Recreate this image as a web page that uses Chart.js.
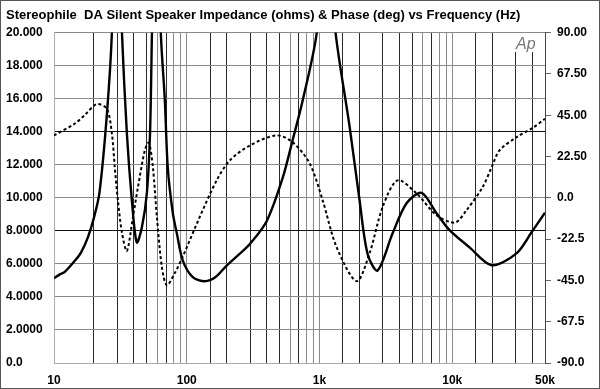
<!DOCTYPE html>
<html>
<head>
<meta charset="utf-8">
<script src="https://cdn.jsdelivr.net/npm/chart.js@4/dist/chart.umd.min.js"></script>
<style>
  html, body { margin: 0; padding: 0; background: #fff; }
  #wrap { width: 600px; height: 389px; position: relative; }
</style>
</head>
<body>
<div id="wrap"><canvas id="chart"></canvas></div>
<script>
// impedance (ohms) vs frequency (Hz)
const freqZ = [10, 11, 12, 14.4, 16, 18, 20, 22, 25, 27.3, 29.5, 32.5, 35.4, 38.6, 42, 45.9, 50.1, 52.9, 54.7, 59, 63.8, 68.4, 72, 78.6, 84.2, 93.4, 111, 137, 165, 200, 250, 299, 401, 528, 628, 748, 954, 1120, 1322, 1687, 2004, 2305, 2742, 3556, 4530, 5876, 7620, 9550, 13500, 19800, 30500, 39500, 50000];
const ohms = [5.13, 5.35, 5.5, 6.2, 6.7, 7.6, 8.8, 10.3, 15.0, 20, 30, 20, 13.9, 9.85, 7.3, 8.2, 10.3, 13.9, 20, 32, 20, 15.9, 11.8, 9.06, 7.85, 6.2, 5.2, 4.95, 5.2, 5.9, 6.6, 7.2, 8.6, 11.2, 13.5, 15.9, 20, 27, 20, 14.3, 9.85, 6.6, 5.6, 7.85, 9.67, 10.3, 9.06, 8.04, 7.0, 5.92, 6.64, 7.9, 9.1];

// phase (deg) vs frequency (Hz)
const freqP = [10, 14.4, 17, 21, 25, 27.3, 28.7, 30.3, 32.5, 35.4, 39.3, 42.9, 48.3, 51.8, 55.6, 59.6, 65, 70.8, 81.3, 93.4, 125, 168, 211, 299, 476, 628, 843, 1057, 1346, 1906, 2388, 2992, 3874, 5385, 7620, 10500, 12800, 16900, 19800, 22700, 30500, 40200, 50000];
const phaseDeg = [34, 40.5, 45, 51, 48.5, 35, 16.6, -1.4, -19, -29, -10.6, 5.7, 25.8, 30, 16.6, -10.6, -37.8, -47.6, -41, -32, -10.6, 9.5, 20.4, 28.5, 34, 30.2, 18.8, -1.4, -26.9, -45.4, -30, -5, 9.5, 2.4, -9.5, -13.5, -6.8, 5.7, 16.6, 25.8, 33, 38, 43];

// axis ticks
const xTickValues = [10, 100, 1000, 10000, 50000];
const xTickText = ['10', '100', '1k', '10k', '50k'];
const leftTicks = [0, 2, 4, 6, 8, 10, 12, 14, 16, 18, 20];
const leftTickText = ['0.0', '2.0000', '4.0000', '6.0000', '8.0000', '10.000', '12.000', '14.000', '16.000', '18.000', '20.000'];
const rightTicks = [-90, -67.5, -45, -22.5, 0, 22.5, 45, 67.5, 90];
const rightTickText = ['-90.0', '-67.5', '-45.0', '-22.5', '0.0', '22.50', '45.00', '67.50', '90.00'];

const tickFont = { family: 'Liberation Sans', size: 12, weight: 'bold' };

// logo + outer frame
const extras = {
    id: 'extras',
    afterDatasetsDraw(chart) {
        const ctx = chart.ctx;
        ctx.save();
        ctx.fillStyle = '#fff';
        ctx.fillRect(513, 33, 30, 19);
        ctx.fillStyle = '#777';
        ctx.font = 'italic 16px "Liberation Sans"';
        ctx.textBaseline = 'alphabetic';
        ctx.fillText('Ap', 516, 49);
        ctx.restore();
    },
    afterDraw(chart) {
        const ctx = chart.ctx;
        ctx.save();
        ctx.strokeStyle = '#555';
        ctx.lineWidth = 1;
        ctx.strokeRect(0.5, 0.5, 599, 388);
        ctx.restore();
    }
};

function xGridColor(c) {
    const v = c.tick ? c.tick.value : 0;
    const s = Math.round(v / Math.pow(10, Math.floor(Math.log10(v) + 1e-9)));
    if (s === 1) return '#8a8a8a';
    if (s === 6 || s === 8 || s === 9) return '#8a8a8a';
    return '#2a2a2a';
}

new Chart(document.getElementById('chart'), {
    type: 'line',
    data: {
        datasets: [{
            label: 'Impedance',
            data: freqZ.map((f, i) => ({ x: f, y: ohms[i] })),
            yAxisID: 'y',
            borderColor: '#000',
            borderWidth: 2.4,
            pointRadius: 0,
            tension: 0.3
        }, {
            label: 'Phase',
            data: freqP.map((f, i) => ({ x: f, y: phaseDeg[i] })),
            yAxisID: 'y2',
            borderColor: '#000',
            borderWidth: 2,
            borderDash: [3, 2.5],
            pointRadius: 0,
            tension: 0.3
        }]
    },
    options: {
        responsive: true,
        maintainAspectRatio: false,
        animation: false,
        layout: { padding: { left: 6, right: 0, top: 0, bottom: 0 } },
        plugins: {
            legend: { display: false },
            tooltip: { enabled: false },
            title: {
                display: true,
                text: 'Stereophile  DA Silent Speaker Impedance (ohms) & Phase (deg) vs Frequency (Hz)',
                align: 'start',
                color: '#000',
                font: { family: 'Liberation Sans', size: 13, weight: 'bold' },
                padding: { top: 8, bottom: 9 }
            }
        },
        scales: {
            x: {
                type: 'logarithmic',
                min: 10,
                max: 50000,
                afterFit(s) { s.height = 26; },
                border: { display: true, color: '#aaa' },
                grid: { color: xGridColor, lineWidth: 1, drawTicks: false },
                ticks: {
                    autoSkip: false,
                    maxRotation: 0,
                    padding: 10,
                    color: '#000',
                    font: tickFont,
                    callback: (v) => {
                        const i = xTickValues.indexOf(v);
                        return i >= 0 ? xTickText[i] : '';
                    }
                }
            },
            y: {
                position: 'left',
                min: 0,
                max: 20,
                afterFit(s) { s.width = 48; },
                afterBuildTicks(s) { s.ticks = leftTicks.map(v => ({ value: v })); },
                border: { display: true, color: '#aaa' },
                grid: {
                    color: (c) => (c.tick && (c.tick.value === 14 || c.tick.value === 8)) ? '#111' : '#8a8a8a',
                    drawTicks: false
                },
                ticks: {
                    crossAlign: 'far',
                    padding: 6,
                    color: '#000',
                    font: tickFont,
                    callback: (v) => leftTickText[leftTicks.indexOf(v)]
                }
            },
            y2: {
                position: 'right',
                min: -90,
                max: 90,
                afterFit(s) { s.width = 55; },
                afterBuildTicks(s) { s.ticks = rightTicks.map(v => ({ value: v })); },
                border: { display: true, color: '#444' },
                grid: { drawOnChartArea: false, drawTicks: true, tickLength: 6, color: '#666' },
                ticks: {
                    padding: 6,
                    color: '#000',
                    font: tickFont,
                    callback: (v) => rightTickText[rightTicks.indexOf(v)]
                }
            }
        }
    },
    plugins: [extras]
});
</script>
</body>
</html>
